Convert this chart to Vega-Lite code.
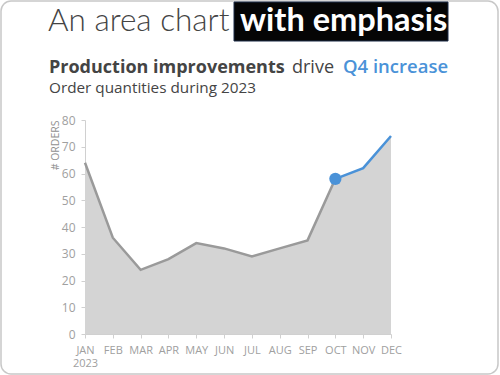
{
  "$schema": "https://vega.github.io/schema/vega-lite/v6.json",
  "width": 306,
  "height": 214,
  "autosize": "none",
  "padding": {"left": 85, "top": 120, "right": 109, "bottom": 41},
  "background": "white",
  "config": {
    "view": {"stroke": null},
    "font": "Open Sans",
    "axisX": {"labelAngle": 0, "labelColor": "#a0a0a0", "labelFontSize": 11, "labelLineHeight": 13, "labelPadding": 6,
      "tickSize": 4, "tickColor": "#d0d0d0", "domainColor": "#d0d0d0", "grid": false},
    "axisY": {"titleAnchor": "end", "titleFontWeight": "normal", "titleFontSize": 10.5, "titleColor": "#909090", "titlePadding": 1,
      "labelOverlap": false, "labelColor": "#a0a0a0", "labelFontSize": 12, "labelPadding": 6,
      "tickSize": 4, "tickColor": "#d0d0d0", "domainColor": "#d0d0d0", "grid": false}
  },
  "data": {"values": [
    {"month": "JAN", "n": 1, "orders": 64},
    {"month": "FEB", "n": 2, "orders": 36},
    {"month": "MAR", "n": 3, "orders": 24},
    {"month": "APR", "n": 4, "orders": 28},
    {"month": "MAY", "n": 5, "orders": 34},
    {"month": "JUN", "n": 6, "orders": 32},
    {"month": "JUL", "n": 7, "orders": 29},
    {"month": "AUG", "n": 8, "orders": 32},
    {"month": "SEP", "n": 9, "orders": 35},
    {"month": "OCT", "n": 10, "orders": 58},
    {"month": "NOV", "n": 11, "orders": 62},
    {"month": "DEC", "n": 12, "orders": 74}
  ]},
  "layer": [
    {
      "mark": {"type": "area", "color": "#d4d4d4"},
      "encoding": {
        "x": {"field": "month", "type": "ordinal", "sort": null,
          "scale": {"type": "point", "padding": 0},
          "axis": {"title": null, "labelExpr": "datum.label == 'JAN' ? ['JAN', '2023'] : datum.label"}},
        "y": {"field": "orders", "type": "quantitative",
          "scale": {"domain": [0, 80], "nice": false},
          "axis": {"title": "# ORDERS", "values": [0, 10, 20, 30, 40, 50, 60, 70, 80]}}
      }
    },
    {
      "transform": [{"filter": "datum.n <= 10"}],
      "mark": {"type": "line", "color": "#9a9a9a", "strokeWidth": 2.5},
      "encoding": {
        "x": {"field": "month", "type": "ordinal", "sort": null},
        "y": {"field": "orders", "type": "quantitative", "axis": {"values": [0, 10, 20, 30, 40, 50, 60, 70, 80]}}
      }
    },
    {
      "transform": [{"filter": "datum.n >= 10"}],
      "mark": {"type": "line", "color": "#4a92d8", "strokeWidth": 2.5},
      "encoding": {
        "x": {"field": "month", "type": "ordinal", "sort": null},
        "y": {"field": "orders", "type": "quantitative", "axis": {"values": [0, 10, 20, 30, 40, 50, 60, 70, 80]}}
      }
    },
    {
      "transform": [{"filter": "datum.n == 10"}],
      "mark": {"type": "circle", "color": "#4a92d8", "opacity": 1, "size": 150},
      "encoding": {
        "x": {"field": "month", "type": "ordinal", "sort": null},
        "y": {"field": "orders", "type": "quantitative", "axis": {"values": [0, 10, 20, 30, 40, 50, 60, 70, 80]}}
      }
    },
    {
      "data": {"values": [{"t": "border"}]},
      "mark": {"type": "rect", "fill": null, "stroke": "#c8c8c8", "strokeWidth": 1.5, "cornerRadius": 10, "clip": false,
        "xOffset": -84, "x2Offset": 413, "yOffset": -119, "y2Offset": 254},
      "encoding": {
        "x": {"datum": "JAN", "type": "ordinal"},
        "x2": {"datum": "JAN"},
        "y": {"datum": 80, "type": "quantitative", "axis": {"values": [0, 10, 20, 30, 40, 50, 60, 70, 80]}},
        "y2": {"datum": 80}
      }
    },
    {
      "data": {"values": [{"t": "box"}]},
      "mark": {"type": "rect", "fill": "#050505", "stroke": "#1c2c48", "strokeWidth": 1, "clip": false,
        "xOffset": 149, "x2Offset": 363, "yOffset": -118, "y2Offset": -79},
      "encoding": {
        "x": {"datum": "JAN", "type": "ordinal"},
        "x2": {"datum": "JAN"},
        "y": {"datum": 80, "type": "quantitative", "axis": {"values": [0, 10, 20, 30, 40, 50, 60, 70, 80]}},
        "y2": {"datum": 80}
      }
    },
    {
      "data": {"values": [{"t": "An area chart"}]},
      "mark": {"type": "text", "font": "Lato", "align": "left", "baseline": "alphabetic", "dx": -37, "dy": -89, "fontSize": 31.5, "fontWeight": 300, "color": "#444444"},
      "encoding": {
        "x": {"datum": "JAN", "type": "ordinal"},
        "y": {"datum": 80, "type": "quantitative", "axis": {"values": [0, 10, 20, 30, 40, 50, 60, 70, 80]}},
        "text": {"field": "t"}
      }
    },
    {
      "data": {"values": [{"t": "with emphasis"}]},
      "mark": {"type": "text", "font": "Lato", "align": "left", "baseline": "alphabetic", "dx": 155, "dy": -89, "fontSize": 32.5, "fontWeight": "bold", "color": "#ffffff"},
      "encoding": {
        "x": {"datum": "JAN", "type": "ordinal"},
        "y": {"datum": 80, "type": "quantitative", "axis": {"values": [0, 10, 20, 30, 40, 50, 60, 70, 80]}},
        "text": {"field": "t"}
      }
    },
    {
      "data": {"values": [{"t": "Production improvements"}]},
      "mark": {"type": "text", "align": "left", "baseline": "alphabetic", "dx": -36, "dy": -47, "fontSize": 18, "fontWeight": "bold", "color": "#444444"},
      "encoding": {
        "x": {"datum": "JAN", "type": "ordinal"},
        "y": {"datum": 80, "type": "quantitative", "axis": {"values": [0, 10, 20, 30, 40, 50, 60, 70, 80]}},
        "text": {"field": "t"}
      }
    },
    {
      "data": {"values": [{"t": "drive"}]},
      "mark": {"type": "text", "align": "left", "baseline": "alphabetic", "dx": 207, "dy": -47, "fontSize": 18, "color": "#444444"},
      "encoding": {
        "x": {"datum": "JAN", "type": "ordinal"},
        "y": {"datum": 80, "type": "quantitative", "axis": {"values": [0, 10, 20, 30, 40, 50, 60, 70, 80]}},
        "text": {"field": "t"}
      }
    },
    {
      "data": {"values": [{"t": "Q4 increase"}]},
      "mark": {"type": "text", "align": "left", "baseline": "alphabetic", "dx": 258, "dy": -47, "fontSize": 18.5, "fontWeight": 600, "color": "#4a92d8"},
      "encoding": {
        "x": {"datum": "JAN", "type": "ordinal"},
        "y": {"datum": 80, "type": "quantitative", "axis": {"values": [0, 10, 20, 30, 40, 50, 60, 70, 80]}},
        "text": {"field": "t"}
      }
    },
    {
      "data": {"values": [{"t": "Order quantities during 2023"}]},
      "mark": {"type": "text", "align": "left", "baseline": "alphabetic", "dx": -36, "dy": -27, "fontSize": 15.3, "color": "#444444"},
      "encoding": {
        "x": {"datum": "JAN", "type": "ordinal"},
        "y": {"datum": 80, "type": "quantitative", "axis": {"values": [0, 10, 20, 30, 40, 50, 60, 70, 80]}},
        "text": {"field": "t"}
      }
    }
  ]
}
